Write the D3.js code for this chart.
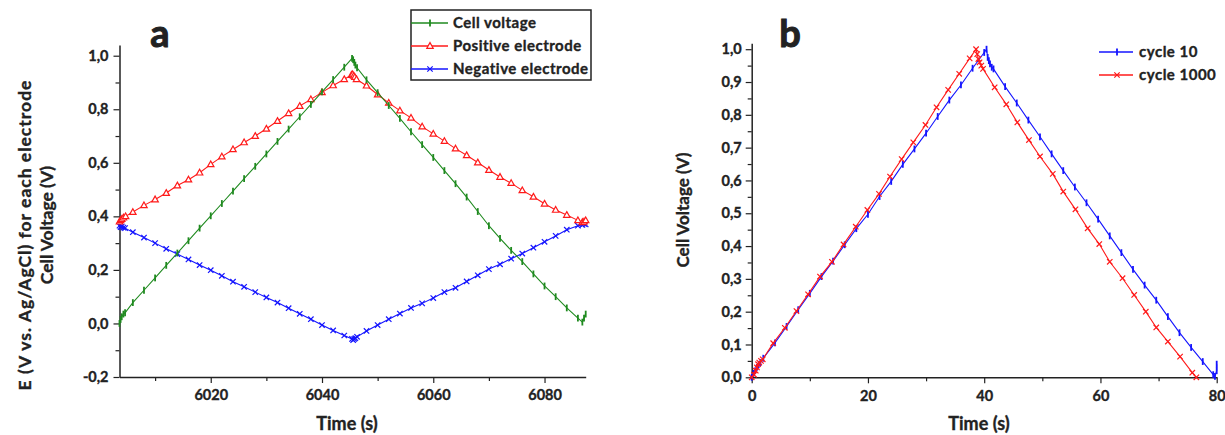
<!DOCTYPE html>
<html lang="en">
<head>
    <meta charset="UTF-8">
    <title>charge_discharge</title>
    <script src="https://d3js.org/d3.v7.min.js"></script>
    <style>
        body { margin: 0; background: #fff; }
        text { font-family: Lato, "Open Sans", sans-serif; font-weight: bold; fill: #222; stroke: #222; stroke-width: 0.35px; }
    </style>
</head>
<body>
<div id="chart"></div>
<script>
    // ---- panel a : electrode potentials ----
    var timeCell = [6003.6, 6003.8, 6004.0, 6004.3, 6004.6, 6006, 6008, 6010, 6012, 6014, 6016, 6018, 6020, 6022, 6024, 6026, 6028, 6030, 6032, 6034, 6036, 6038, 6040, 6042, 6044, 6045.4, 6045.6, 6045.8, 6046.0, 6046.3, 6048, 6050, 6052, 6054, 6056, 6058, 6060, 6062, 6064, 6066, 6068, 6070, 6072, 6074, 6076, 6078, 6080, 6082, 6084, 6086, 6086.8, 6087.1, 6087.4];
    var cellV = [0.00, 0.015, 0.025, 0.035, 0.04, 0.078, 0.124, 0.170, 0.217, 0.263, 0.309, 0.356, 0.402, 0.448, 0.494, 0.541, 0.587, 0.633, 0.680, 0.726, 0.772, 0.818, 0.865, 0.911, 0.957, 0.99, 0.985, 0.975, 0.965, 0.955, 0.91, 0.862, 0.814, 0.766, 0.716, 0.668, 0.620, 0.571, 0.522, 0.472, 0.418, 0.365, 0.318, 0.273, 0.231, 0.185, 0.140, 0.100, 0.058, 0.02, 0.005, 0.02, 0.035];

    var timePos = [6003.6, 6003.8, 6004.0, 6004.3, 6004.7, 6006, 6008, 6010, 6012, 6014, 6016, 6018, 6020, 6022, 6024, 6026, 6028, 6030, 6032, 6034, 6036, 6038, 6040, 6042, 6044, 6045.3, 6045.5, 6045.7, 6045.9, 6046.2, 6048, 6050, 6052, 6054, 6056, 6058, 6060, 6062, 6064, 6066, 6068, 6070, 6072, 6074, 6076, 6078, 6080, 6082, 6084, 6086, 6086.8, 6087.1, 6087.4];
    var posE = [0.38, 0.385, 0.39, 0.395, 0.40, 0.416, 0.441, 0.463, 0.487, 0.515, 0.537, 0.563, 0.594, 0.623, 0.650, 0.676, 0.700, 0.727, 0.756, 0.785, 0.812, 0.837, 0.863, 0.889, 0.912, 0.928, 0.93, 0.925, 0.92, 0.912, 0.888, 0.855, 0.824, 0.795, 0.768, 0.735, 0.708, 0.681, 0.653, 0.628, 0.601, 0.573, 0.547, 0.524, 0.497, 0.473, 0.447, 0.424, 0.405, 0.385, 0.378, 0.38, 0.385];

    var timeNeg = [6003.6, 6003.8, 6004.0, 6004.3, 6004.6, 6006, 6008, 6010, 6012, 6014, 6016, 6018, 6020, 6022, 6024, 6026, 6028, 6030, 6032, 6034, 6036, 6038, 6040, 6042, 6044, 6045.4, 6045.6, 6045.8, 6046.0, 6046.3, 6048, 6050, 6052, 6054, 6056, 6058, 6060, 6062, 6064, 6066, 6068, 6070, 6072, 6074, 6076, 6078, 6080, 6082, 6084, 6086, 6086.8, 6087.1, 6087.4];
    var negE = [0.365, 0.36, 0.362, 0.358, 0.356, 0.341, 0.321, 0.300, 0.279, 0.259, 0.239, 0.218, 0.199, 0.178, 0.156, 0.137, 0.117, 0.097, 0.078, 0.057, 0.036, 0.016, -0.006, -0.026, -0.045, -0.058, -0.062, -0.058, -0.055, -0.05, -0.028, -0.006, 0.016, 0.037, 0.058, 0.075, 0.095, 0.117, 0.133, 0.157, 0.180, 0.203, 0.221, 0.242, 0.261, 0.283, 0.305, 0.327, 0.350, 0.365, 0.368, 0.372, 0.37];

    // ---- panel b : cycles ----
    var timeC10 = [0, 0.3, 0.6, 0.9, 1.2, 1.5, 2, 4, 6, 8, 10, 12, 14, 16, 18, 20, 22, 24, 26, 28, 30, 32, 34, 36, 38, 40, 40.4, 40.6, 40.8, 41.0, 41.3, 41.6, 43.6, 45.6, 47.6, 49.6, 51.6, 53.6, 55.6, 57.6, 59.6, 61.6, 63.6, 65.6, 67.6, 69.6, 71.6, 73.6, 75.6, 77.6, 79.4, 79.7, 80, 80];
    var cyc10 = [0, 0.012, 0.02, 0.03, 0.038, 0.045, 0.058, 0.105, 0.155, 0.206, 0.256, 0.307, 0.354, 0.404, 0.453, 0.497, 0.551, 0.597, 0.649, 0.696, 0.744, 0.795, 0.845, 0.891, 0.942, 0.99, 1.0, 0.975, 0.965, 0.955, 0.945, 0.94, 0.886, 0.836, 0.784, 0.733, 0.681, 0.63, 0.58, 0.532, 0.482, 0.431, 0.38, 0.329, 0.281, 0.235, 0.185, 0.136, 0.091, 0.048, 0.008, 0.003, 0.02, 0.04];

    var timeC1000 = [0, 0.4, 0.7, 0.9, 1.1, 1.3, 1.6, 1.9, 3.7, 5.7, 7.7, 9.7, 11.75, 13.8, 15.8, 17.9, 19.9, 21.9, 23.8, 25.8, 27.8, 29.9, 31.8, 33.8, 35.7, 37.5, 38.6, 38.8, 39.0, 39.2, 39.5, 39.8, 41.8, 43.8, 45.7, 47.7, 49.6, 51.8, 53.6, 55.7, 57.8, 59.8, 61.6, 63.8, 65.8, 67.8, 69.6, 71.6, 73.7, 75.8, 76.5];
    var cyc1000 = [0, 0.008, 0.02, 0.03, 0.04, 0.045, 0.05, 0.055, 0.104, 0.151, 0.202, 0.253, 0.307, 0.352, 0.405, 0.459, 0.51, 0.559, 0.612, 0.665, 0.716, 0.769, 0.823, 0.876, 0.925, 0.972, 1.0, 0.985, 0.97, 0.96, 0.95, 0.94, 0.884, 0.832, 0.777, 0.723, 0.673, 0.62, 0.566, 0.512, 0.454, 0.406, 0.352, 0.302, 0.251, 0.2, 0.152, 0.109, 0.063, 0.014, 0.0];

    // tick values
    var ticksA_x = [6020, 6040, 6060, 6080], minorA_x = [6010, 6030, 6050, 6070];
    var ticksA_y = [-0.2, 0, 0.2, 0.4, 0.6, 0.8, 1.0], minorA_y = [-0.1, 0.1, 0.3, 0.5, 0.7, 0.9];
    var ticksB_x = [0, 20, 40, 60, 80], minorB_x = [10, 30, 50, 70];
    var ticksB_y = [0, 0.1, 0.2, 0.3, 0.4, 0.5, 0.6, 0.7, 0.8, 0.9, 1.0];
    var minorB_y = [0.05, 0.15, 0.25, 0.35, 0.45, 0.55, 0.65, 0.75, 0.85, 0.95];

    var GREEN = "#1f8a1f", RED = "#ff1a1a", BLUE = "#1414ff";

    var svg = d3.select("#chart").append("svg")
        .attr("width", 1225)
        .attr("height", 435);

    // comma decimal, plain hyphen
    function fmt(d) { return d.toFixed(1).replace(".", ","); }

    // marker shapes
    function marker(g, kind, color) {
        if (kind === "tri") {
            g.append("path").attr("d", "M0,-3.4L3.2,2.3L-3.2,2.3Z")
                .attr("fill", "#fff").attr("stroke", color).attr("stroke-width", 1.2);
        } else if (kind === "bar") {
            g.append("path").attr("d", "M0,-3.4V3.4")
                .attr("stroke", color).attr("stroke-width", 1.8);
        } else if (kind === "x") {
            g.append("path").attr("d", "M-2.7,-2.7L2.7,2.7M-2.7,2.7L2.7,-2.7")
                .attr("stroke", color).attr("stroke-width", 1.2);
        }
    }

    function drawPanel(p) {
        var x = d3.scaleLinear().domain(p.xDomain).range(p.xRange);
        var y = d3.scaleLinear().domain(p.yDomain).range(p.yRange);

        // minor ticks
        svg.append("g")
            .attr("transform", "translate(0," + p.yRange[0] + ")")
            .call(d3.axisBottom(x).tickValues(p.minorX).tickSize(4).tickSizeOuter(0).tickFormat(""))
            .call(function(g) { g.select(".domain").remove(); });
        svg.append("g")
            .attr("transform", "translate(" + p.xRange[0] + ",0)")
            .call(d3.axisLeft(y).tickValues(p.minorY).tickSize(4).tickSizeOuter(0).tickFormat(""))
            .call(function(g) { g.select(".domain").remove(); });

        // major axes
        svg.append("g")
            .attr("transform", "translate(0," + p.yRange[0] + ")")
            .call(d3.axisBottom(x).tickValues(p.ticksX).tickSize(6).tickSizeOuter(0).tickPadding(7).tickFormat(d3.format("d")));
        svg.append("g")
            .attr("transform", "translate(" + p.xRange[0] + ",0)")
            .call(d3.axisLeft(y).tickValues(p.ticksY).tickSize(6).tickSizeOuter(0).tickPadding(p.yPad).tickFormat(fmt));
        svg.selectAll(".domain").attr("stroke", "#222").attr("stroke-width", 1.5);
        svg.selectAll(".tick line").attr("stroke", "#222").attr("stroke-width", 1.2);
        svg.selectAll(".tick text").style("font-size", "14.5px").attr("fill", "#222");

        p.series.forEach(function(s) {
            var pts = s.t.map(function(t, i) { return [t, s.v[i]]; });
            svg.append("path")
                .datum(pts)
                .attr("fill", "none")
                .attr("stroke", s.color)
                .attr("stroke-width", 1.1)
                .attr("d", d3.line().x(function(d) { return x(d[0]); }).y(function(d) { return y(d[1]); }));
            pts.forEach(function(d) {
                var g = svg.append("g").attr("transform", "translate(" + x(d[0]) + "," + y(d[1]) + ")");
                marker(g, s.marker, s.color);
            });
        });
    }

    drawPanel({
        xDomain: [6003.6, 6087.4], xRange: [119.5, 585.7],
        yDomain: [-0.2, 1.04], yRange: [377, 45],
        ticksX: ticksA_x, minorX: minorA_x, ticksY: ticksA_y, minorY: minorA_y, yPad: 5,
        series: [
            {t: timeNeg, v: negE, color: BLUE, marker: "x"},
            {t: timePos, v: posE, color: RED, marker: "tri"},
            {t: timeCell, v: cellV, color: GREEN, marker: "bar"}
        ]
    });

    drawPanel({
        xDomain: [0, 80], xRange: [751.7, 1216.7],
        yDomain: [0, 1.018], yRange: [377.3, 43.3],
        ticksX: ticksB_x, minorX: minorB_x, ticksY: ticksB_y, minorY: minorB_y, yPad: 4,
        series: [
            {t: timeC10, v: cyc10, color: BLUE, marker: "bar"},
            {t: timeC1000, v: cyc1000, color: RED, marker: "x"}
        ]
    });

    // axis titles
    svg.append("text").attr("x", 347).attr("y", 430).attr("text-anchor", "middle")
        .style("font-size", "18px").text("Time (s)");
    svg.append("text").attr("x", 979).attr("y", 430).attr("text-anchor", "middle")
        .style("font-size", "18px").text("Time (s)");
    svg.append("text").attr("transform", "translate(31,235) rotate(-90)").attr("text-anchor", "middle")
        .style("font-size", "17.5px").style("letter-spacing", "1px").text("E (V vs. Ag/AgCl) for each electrode");
    svg.append("text").attr("transform", "translate(53,225) rotate(-90)").attr("text-anchor", "middle")
        .style("font-size", "17.5px").text("Cell Voltage (V)");
    svg.append("text").attr("transform", "translate(689,210) rotate(-90)").attr("text-anchor", "middle")
        .style("font-size", "17px").text("Cell Voltage (V)");

    // panel letters
    svg.append("text").attr("x", 160).attr("y", 47).attr("text-anchor", "middle")
        .style("font-size", "38px").style("stroke-width", "1px").text("a");
    svg.append("text").attr("x", 790).attr("y", 47).attr("text-anchor", "middle")
        .style("font-size", "38px").style("stroke-width", "1px").text("b");

    // legend a (boxed)
    var legA = [{name: "Cell voltage", color: GREEN, marker: "bar"},
                {name: "Positive electrode", color: RED, marker: "tri"},
                {name: "Negative electrode", color: BLUE, marker: "x"}];
    svg.append("rect").attr("x", 411).attr("y", 10).attr("width", 180).attr("height", 70)
        .attr("fill", "#fff").attr("stroke", "#222").attr("stroke-width", 1.5);
    legA.forEach(function(d, i) {
        var yy = 23 + i * 23;
        svg.append("line").attr("x1", 411).attr("x2", 448).attr("y1", yy).attr("y2", yy)
            .attr("stroke", d.color).attr("stroke-width", 1.5);
        marker(svg.append("g").attr("transform", "translate(430," + yy + ")"), d.marker, d.color);
        svg.append("text").attr("x", 453).attr("y", yy).attr("dy", "0.35em")
            .style("font-size", "15px").style("letter-spacing", "0.5px").text(d.name);
    });

    // legend b (no box)
    var legB = [{name: "cycle 10", color: BLUE, marker: "bar"},
                {name: "cycle 1000", color: RED, marker: "x"}];
    legB.forEach(function(d, i) {
        var yy = 52 + i * 23;
        svg.append("line").attr("x1", 1099).attr("x2", 1133).attr("y1", yy).attr("y2", yy)
            .attr("stroke", d.color).attr("stroke-width", 1.5);
        marker(svg.append("g").attr("transform", "translate(1117," + yy + ")"), d.marker, d.color);
        svg.append("text").attr("x", 1139).attr("y", yy).attr("dy", "0.35em")
            .style("font-size", "15px").style("letter-spacing", "0.5px").text(d.name);
    });
</script>
</body>
</html>
